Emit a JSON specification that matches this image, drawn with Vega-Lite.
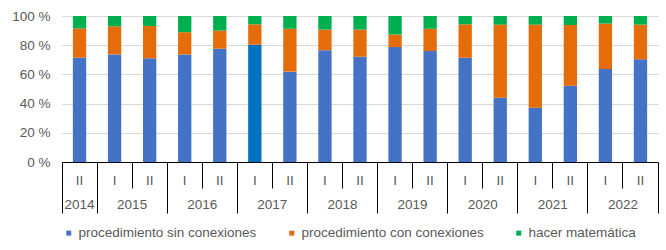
{
  "$schema": "https://vega.github.io/schema/vega-lite/v6.json",
  "width": 596,
  "height": 146,
  "autosize": {"type": "none"},
  "padding": {"left": 62, "top": 16, "right": 8, "bottom": 88},
  "background": "white",
  "config": {
    "view": {"stroke": null},
    "font": "Liberation Sans",
    "axis": {"labelFont": "Liberation Sans", "labelFontSize": 13.5, "labelColor": "#595959"}
  },
  "data": {
    "values": [
      {"periodo": "2014-II", "serie": "procedimiento sin conexiones", "valor": 71.4},
      {"periodo": "2014-II", "serie": "procedimiento con conexiones", "valor": 20.0},
      {"periodo": "2014-II", "serie": "hacer matemática", "valor": 8.6},
      {"periodo": "2015-I", "serie": "procedimiento sin conexiones", "valor": 73.7},
      {"periodo": "2015-I", "serie": "procedimiento con conexiones", "valor": 19.3},
      {"periodo": "2015-I", "serie": "hacer matemática", "valor": 7.0},
      {"periodo": "2015-II", "serie": "procedimiento sin conexiones", "valor": 71.0},
      {"periodo": "2015-II", "serie": "procedimiento con conexiones", "valor": 22.2},
      {"periodo": "2015-II", "serie": "hacer matemática", "valor": 6.8},
      {"periodo": "2016-I", "serie": "procedimiento sin conexiones", "valor": 73.7},
      {"periodo": "2016-I", "serie": "procedimiento con conexiones", "valor": 15.2},
      {"periodo": "2016-I", "serie": "hacer matemática", "valor": 11.1},
      {"periodo": "2016-II", "serie": "procedimiento sin conexiones", "valor": 77.6},
      {"periodo": "2016-II", "serie": "procedimiento con conexiones", "valor": 12.4},
      {"periodo": "2016-II", "serie": "hacer matemática", "valor": 10.0},
      {"periodo": "2017-I", "serie": "procedimiento sin conexiones", "valor": 80.3},
      {"periodo": "2017-I", "serie": "procedimiento con conexiones", "valor": 14.0},
      {"periodo": "2017-I", "serie": "hacer matemática", "valor": 5.7},
      {"periodo": "2017-II", "serie": "procedimiento sin conexiones", "valor": 61.9},
      {"periodo": "2017-II", "serie": "procedimiento con conexiones", "valor": 29.3},
      {"periodo": "2017-II", "serie": "hacer matemática", "valor": 8.8},
      {"periodo": "2018-I", "serie": "procedimiento sin conexiones", "valor": 76.6},
      {"periodo": "2018-I", "serie": "procedimiento con conexiones", "valor": 14.1},
      {"periodo": "2018-I", "serie": "hacer matemática", "valor": 9.3},
      {"periodo": "2018-II", "serie": "procedimiento sin conexiones", "valor": 72.1},
      {"periodo": "2018-II", "serie": "procedimiento con conexiones", "valor": 18.6},
      {"periodo": "2018-II", "serie": "hacer matemática", "valor": 9.3},
      {"periodo": "2019-I", "serie": "procedimiento sin conexiones", "valor": 78.7},
      {"periodo": "2019-I", "serie": "procedimiento con conexiones", "valor": 8.6},
      {"periodo": "2019-I", "serie": "hacer matemática", "valor": 12.7},
      {"periodo": "2019-II", "serie": "procedimiento sin conexiones", "valor": 76.0},
      {"periodo": "2019-II", "serie": "procedimiento con conexiones", "valor": 15.2},
      {"periodo": "2019-II", "serie": "hacer matemática", "valor": 8.8},
      {"periodo": "2020-I", "serie": "procedimiento sin conexiones", "valor": 71.4},
      {"periodo": "2020-I", "serie": "procedimiento con conexiones", "valor": 22.9},
      {"periodo": "2020-I", "serie": "hacer matemática", "valor": 5.7},
      {"periodo": "2020-II", "serie": "procedimiento sin conexiones", "valor": 44.0},
      {"periodo": "2020-II", "serie": "procedimiento con conexiones", "valor": 50.1},
      {"periodo": "2020-II", "serie": "hacer matemática", "valor": 5.9},
      {"periodo": "2021-I", "serie": "procedimiento sin conexiones", "valor": 37.2},
      {"periodo": "2021-I", "serie": "procedimiento con conexiones", "valor": 56.9},
      {"periodo": "2021-I", "serie": "hacer matemática", "valor": 5.9},
      {"periodo": "2021-II", "serie": "procedimiento sin conexiones", "valor": 52.2},
      {"periodo": "2021-II", "serie": "procedimiento con conexiones", "valor": 41.7},
      {"periodo": "2021-II", "serie": "hacer matemática", "valor": 6.1},
      {"periodo": "2022-I", "serie": "procedimiento sin conexiones", "valor": 63.7},
      {"periodo": "2022-I", "serie": "procedimiento con conexiones", "valor": 31.1},
      {"periodo": "2022-I", "serie": "hacer matemática", "valor": 5.2},
      {"periodo": "2022-II", "serie": "procedimiento sin conexiones", "valor": 70.3},
      {"periodo": "2022-II", "serie": "procedimiento con conexiones", "valor": 23.8},
      {"periodo": "2022-II", "serie": "hacer matemática", "valor": 5.9}
    ]
  },
  "layer": [
    {
      "mark": {"type": "bar", "width": {"band": 0.38}},
      "encoding": {
        "x": {
          "field": "periodo",
          "type": "ordinal",
          "sort": null,
          "scale": {
            "domain": ["2014-II", "2015-I", "2015-II", "2016-I", "2016-II", "2017-I", "2017-II", "2018-I", "2018-II", "2019-I", "2019-II", "2020-I", "2020-II", "2021-I", "2021-II", "2022-I", "2022-II"],
            "paddingInner": 0,
            "paddingOuter": 0
          },
          "axis": {
            "orient": "bottom",
            "title": null,
            "bandPosition": 0,
            "domain": true,
            "domainColor": "#000000",
            "domainWidth": 1,
            "ticks": true,
            "tickSize": 26,
            "tickColor": "#000000",
            "tickWidth": 1,
            "labelExpr": "split(datum.value, '-')[1]",
            "labelPadding": -8,
            "labelBaseline": "middle",
            "labelAngle": 0,
            "labelOverlap": false,
            "grid": false
          }
        },
        "y": {
          "field": "valor",
          "type": "quantitative",
          "stack": "zero",
          "scale": {"domain": [0, 100], "nice": false},
          "axis": {
            "title": null,
            "values": [0, 20, 40, 60, 80, 100],
            "labelExpr": "datum.value + ' %'",
            "domain": false,
            "ticks": false,
            "grid": true,
            "gridColor": "#D9D9D9",
            "gridWidth": 1,
            "labelPadding": 12
          }
        },
        "color": {
          "field": "serie",
          "type": "nominal",
          "sort": ["procedimiento sin conexiones", "procedimiento con conexiones", "hacer matemática"],
          "scale": {
            "domain": ["procedimiento sin conexiones", "procedimiento con conexiones", "hacer matemática"],
            "range": ["#4472C4", "#E46C0A", "#00B050"]
          },
          "condition": {
            "test": "datum.periodo === '2017-I' && datum.serie === 'procedimiento sin conexiones'",
            "value": "#0070C0"
          },
          "legend": {
            "title": null,
            "orient": "none",
            "legendX": 0,
            "legendY": 210,
            "direction": "horizontal",
            "symbolType": "square",
            "symbolSize": 25,
            "symbolStrokeWidth": 0,
            "labelFont": "Liberation Sans",
            "labelFontSize": 13.5,
            "labelColor": "#595959",
            "labelOffset": 3,
            "labelLimit": 300,
            "columnPadding": 28
          }
        }
      }
    },
    {
      "mark": {"type": "text", "opacity": 0},
      "encoding": {
        "x": {
          "field": "periodo",
          "type": "ordinal",
          "sort": null,
          "axis": {
            "orient": "bottom",
            "title": null,
            "bandPosition": 0,
            "domain": false,
            "ticks": true,
            "tickSize": 51,
            "tickColor": "#000000",
            "tickWidth": 1,
            "tickOpacity": {"condition": {"test": "indexof(datum.value, '-II') < 0 || datum.value === '2014-II'", "value": 1}, "value": 0},
            "labelExpr": "datum.value === '2014-II' ? '2014' : ''",
            "labelPadding": -9,
            "labelBaseline": "middle",
            "labelAngle": 0,
            "labelOverlap": false,
            "grid": false
          }
        }
      }
    },
    {
      "mark": {"type": "text", "opacity": 0},
      "encoding": {
        "x": {
          "field": "periodo",
          "type": "ordinal",
          "sort": null,
          "axis": {
            "orient": "bottom",
            "title": null,
            "bandPosition": 1,
            "domain": false,
            "ticks": true,
            "tickSize": 51,
            "tickColor": "#000000",
            "tickWidth": 1,
            "tickOpacity": {"condition": {"test": "datum.value === '2022-II'", "value": 1}, "value": 0},
            "labelExpr": "split(datum.value, '-')[1] === 'I' ? split(datum.value, '-')[0] : ''",
            "labelOffset": 17.53,
            "labelPadding": -9,
            "labelBaseline": "middle",
            "labelAngle": 0,
            "labelOverlap": false,
            "grid": false
          }
        }
      }
    }
  ],
  "resolve": {"axis": {"x": "independent"}}
}
